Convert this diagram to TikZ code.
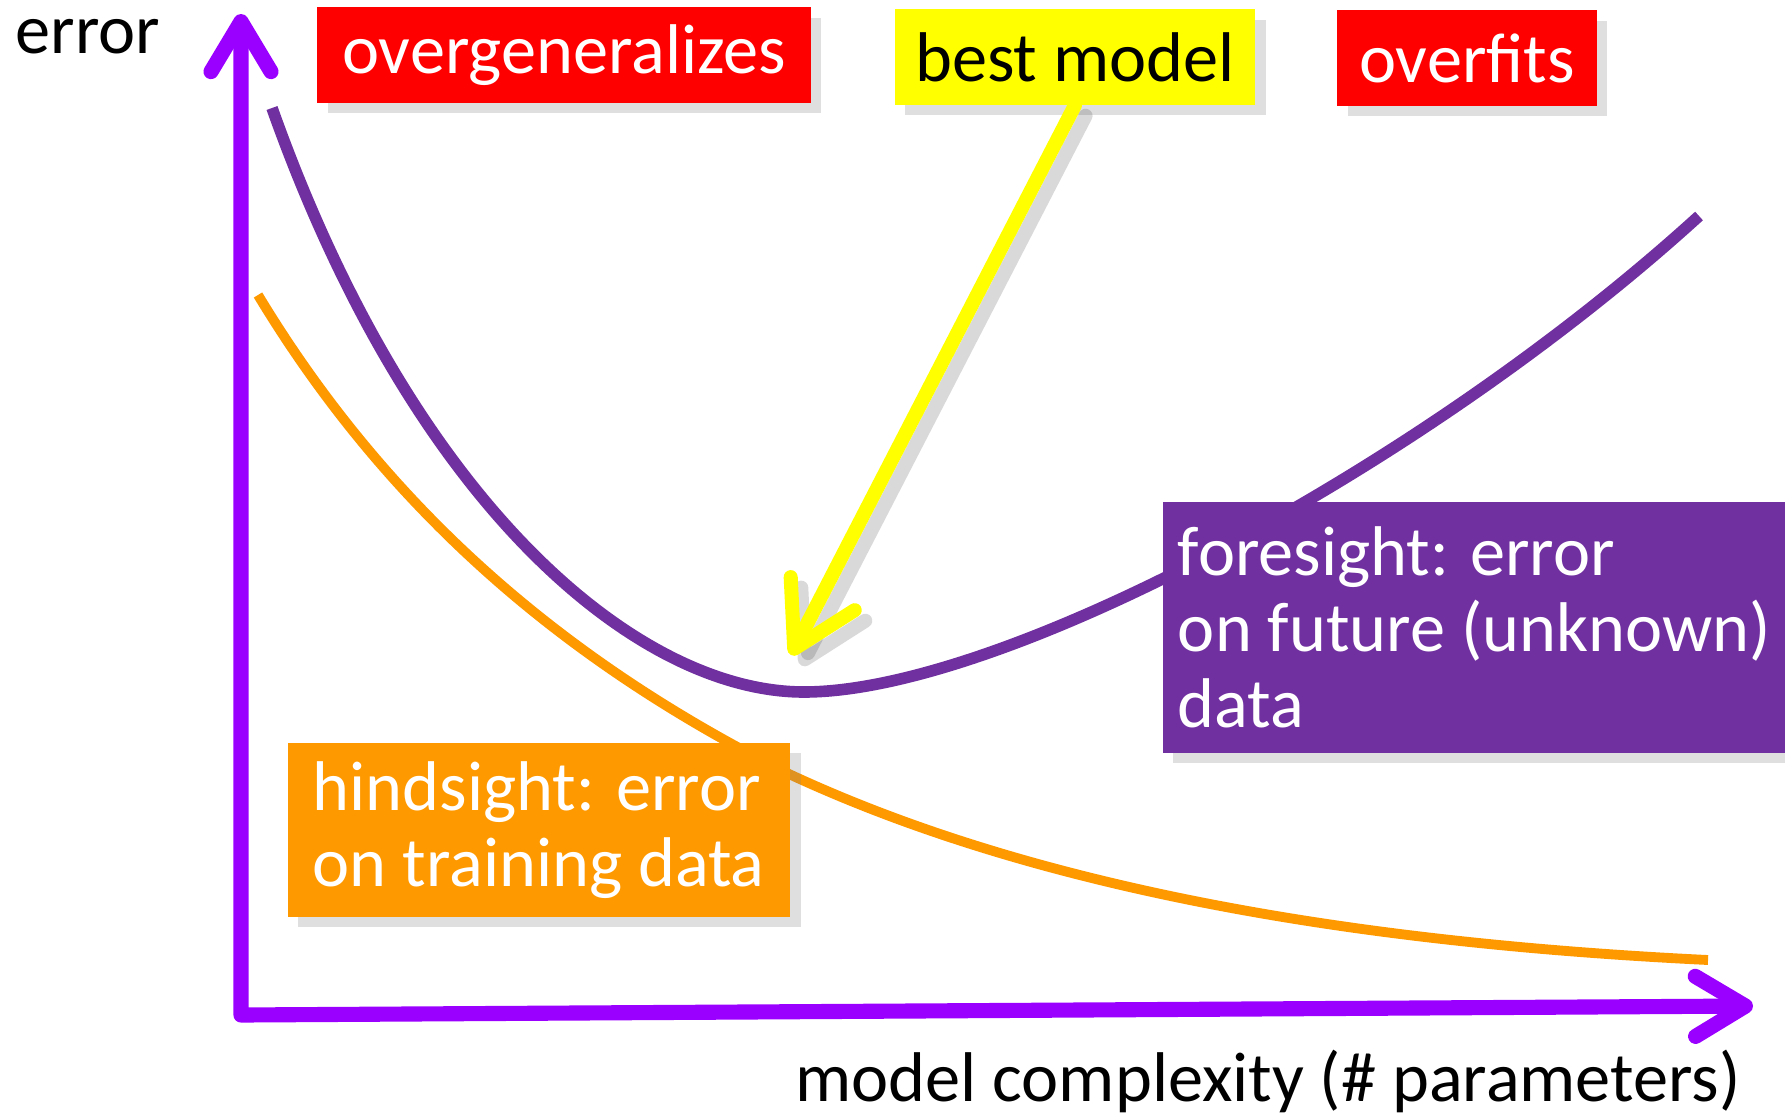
\documentclass[tikz,border=0pt]{standalone}
\usepackage{fontspec}
\setmainfont{Carlito}
\usetikzlibrary{arrows.meta,shadows}
\definecolor{axisviolet}{RGB}{153,0,255}
\definecolor{plum}{RGB}{112,48,160}
\definecolor{tangerine}{RGB}{255,153,0}
\definecolor{signred}{RGB}{255,0,0}
\definecolor{signyellow}{RGB}{255,255,0}

\begin{document}
\begin{tikzpicture}[x=0.01cm,y=-0.01cm,
    txt/.style={font=\fontsize{20}{21.6}\selectfont},
    boxshadow/.style={drop shadow={shadow xshift=3pt,shadow yshift=-3pt,opacity=0.25}},
    tag/.style={txt,boxshadow,inner sep=0pt,minimum height=0.95cm},
    note/.style={txt,boxshadow,text=white,anchor=north west,align=left,inner sep=0pt},
    axisbarb/.tip={Straight Barb[round,length=0.5cm,width=0.6cm]},
    yelbarb/.tip={Straight Barb[round,length=0.62cm,width=0.72cm]}
  ]
  \useasboundingbox (0,0) rectangle (1785,1115);

  % axes
  \coordinate (origin) at (241,1015);
  \coordinate (ytop) at (241,14);
  \coordinate (xend) at (1753,1006);
  \draw[axisviolet,line width=4.3pt,line cap=round,line join=round,{axisbarb}-{axisbarb}] (ytop) -- (origin) -- (xend);
  \node[txt,anchor=base] (ylab) at (88,54) {error};
  \node[txt] (xlab) at (1268,1081) {model complexity (\# parameters)};

  % curves
  \draw[plum,line width=3.3pt] (272,108) .. controls (415,510) and (640,692) .. (804,692)
                                        .. controls (1000,692) and (1420,470) .. (1699,216);
  \draw[tangerine,line width=2.8pt] (258,295) .. controls (400,530) and (589,674) .. (789,774)
                                             .. controls (1060,900) and (1400,945) .. (1708,960);

  % tags on top
  \node[tag,fill=signred,text=white,minimum width=4.93cm] (overgen) at (564,55) {overgeneralizes};
  \node[tag,fill=signyellow,text=black,minimum width=3.6cm] (best) at (1075,57) {best model};
  \node[tag,fill=signred,text=white,minimum width=2.59cm] (overfit) at (1467,58) {overfits};

  % arrow to the minimum
  \coordinate (bestpt) at (791,655);
  \draw[black,opacity=0.15,line width=4pt,line cap=round,-{yelbarb},transform canvas={xshift=3pt,yshift=-3pt}] (best.south) -- (bestpt);
  \draw[signyellow,line width=4pt,line cap=round,-{yelbarb}] (best.south) -- (bestpt);

  % boxes
  \node[note,fill=plum,minimum width=6.23cm,minimum height=2.51cm] (fore) at (1162,501)
    {foresight: error\\on future (unknown)\\data};
  \node[note,fill=tangerine,minimum width=5.02cm,minimum height=1.74cm] (hind) at (287,742)
    {hindsight: error\\on training data};
\end{tikzpicture}
\end{document}
